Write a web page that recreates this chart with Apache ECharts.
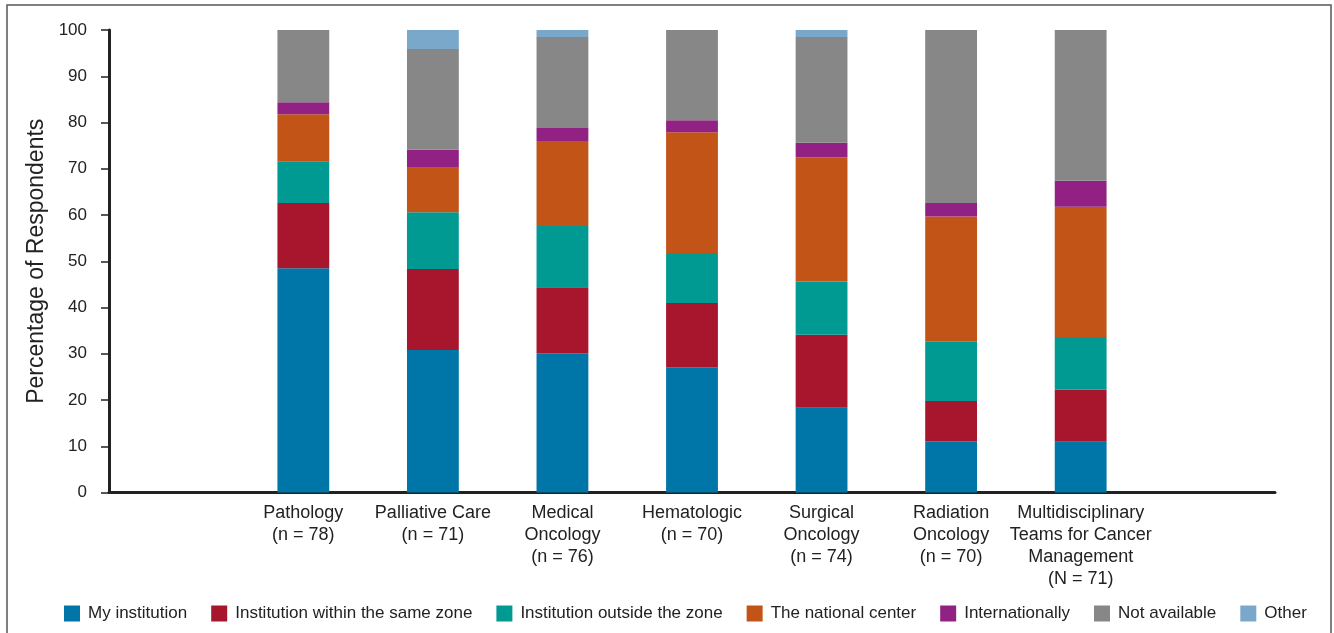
<!DOCTYPE html>
<html>
<head>
<meta charset="utf-8">
<script src="https://cdn.jsdelivr.net/npm/echarts@6/dist/echarts.min.js"></script>
<style>
  html, body { margin: 0; padding: 0; background: #fff; }
  #chart { width: 1334px; height: 633px; }
</style>
</head>
<body>
<div id="chart"></div>
<script>
// categories (blank slots at both ends, like the original layout)
const categories = ['', 'Pathology\n(n = 78)', 'Palliative Care\n(n = 71)', 'Medical\nOncology\n(n = 76)',
  'Hematologic\n(n = 70)', 'Surgical\nOncology\n(n = 74)', 'Radiation\nOncology\n(n = 70)',
  'Multidisciplinary\nTeams for Cancer\nManagement\n(N = 71)', ''];

const seriesNames = ['My institution', 'Institution within the same zone', 'Institution outside the zone',
  'The national center', 'Internationally', 'Not available', 'Other'];

// percentages
const myInstitution = ['-', 48.5, 30.8, 30.1, 27.1, 18.3, 11.1, 11.0, '-'];
const sameZone      = ['-', 14.1, 17.5, 14.3, 13.9, 15.8, 8.7, 11.2, '-'];
const outsideZone   = ['-', 9.0, 12.3, 13.2, 10.8, 11.5, 12.8, 11.4, '-'];
const nationalCenter= ['-', 10.2, 9.6, 18.4, 26.1, 26.9, 27.1, 28.2, '-'];
const international = ['-', 2.6, 3.9, 2.8, 2.6, 3.1, 2.9, 5.6, '-'];
const notAvailable  = ['-', 15.6, 21.8, 19.7, 19.5, 22.9, 37.4, 32.6, '-'];
const other         = ['-', 0, 4.1, 1.5, 0, 1.5, 0, 0, '-'];

const yTicks = { min: 0, max: 100, interval: 10 };

const colors = ['#0076A8', '#A8162D', '#009A92', '#C25418', '#912283', '#878787', '#79A8CA'];
const seriesData = [myInstitution, sameZone, outsideZone, nationalCenter, international, notAvailable, other];

const chart = echarts.init(document.getElementById('chart'));

const option = {
  animation: false,
  color: colors,
  textStyle: { fontFamily: 'Liberation Sans, Arial, sans-serif', color: '#222' },
  graphic: [{
    type: 'rect',
    shape: { x: 7, y: 5, width: 1324, height: 640 },
    style: { fill: 'none', stroke: '#555', lineWidth: 1.5 },
    silent: true
  }],
  grid: { left: 109, right: 59, top: 30, bottom: 140.5 },
  legend: {
    left: 64,
    top: 605,
    padding: 0,
    icon: 'rect',
    itemWidth: 16,
    itemHeight: 16,
    itemGap: 24,
    textStyle: { fontSize: 17, color: '#222', padding: [0, 0, 0, 3] },
    data: seriesNames
  },
  xAxis: {
    type: 'category',
    data: categories,
    axisLine: { lineStyle: { color: '#222', width: 3 } },
    axisTick: { show: false },
    axisLabel: { interval: 0, fontSize: 18, lineHeight: 22, color: '#222', margin: 10 }
  },
  yAxis: {
    type: 'value',
    min: yTicks.min,
    max: yTicks.max,
    interval: yTicks.interval,
    name: 'Percentage of Respondents',
    nameLocation: 'middle',
    nameGap: 60,
    nameTextStyle: { fontSize: 23, color: '#222' },
    axisLine: { show: true, lineStyle: { color: '#222', width: 3 } },
    axisTick: { show: true, length: 8, lineStyle: { color: '#222', width: 1.5 } },
    axisLabel: { fontSize: 17, color: '#222', margin: 22 },
    splitLine: { show: false }
  },
  series: seriesNames.map((name, i) => ({
    name: name,
    type: 'bar',
    stack: 'total',
    barWidth: '40%',
    data: seriesData[i]
  }))
};

chart.setOption(option);
</script>
</body>
</html>
